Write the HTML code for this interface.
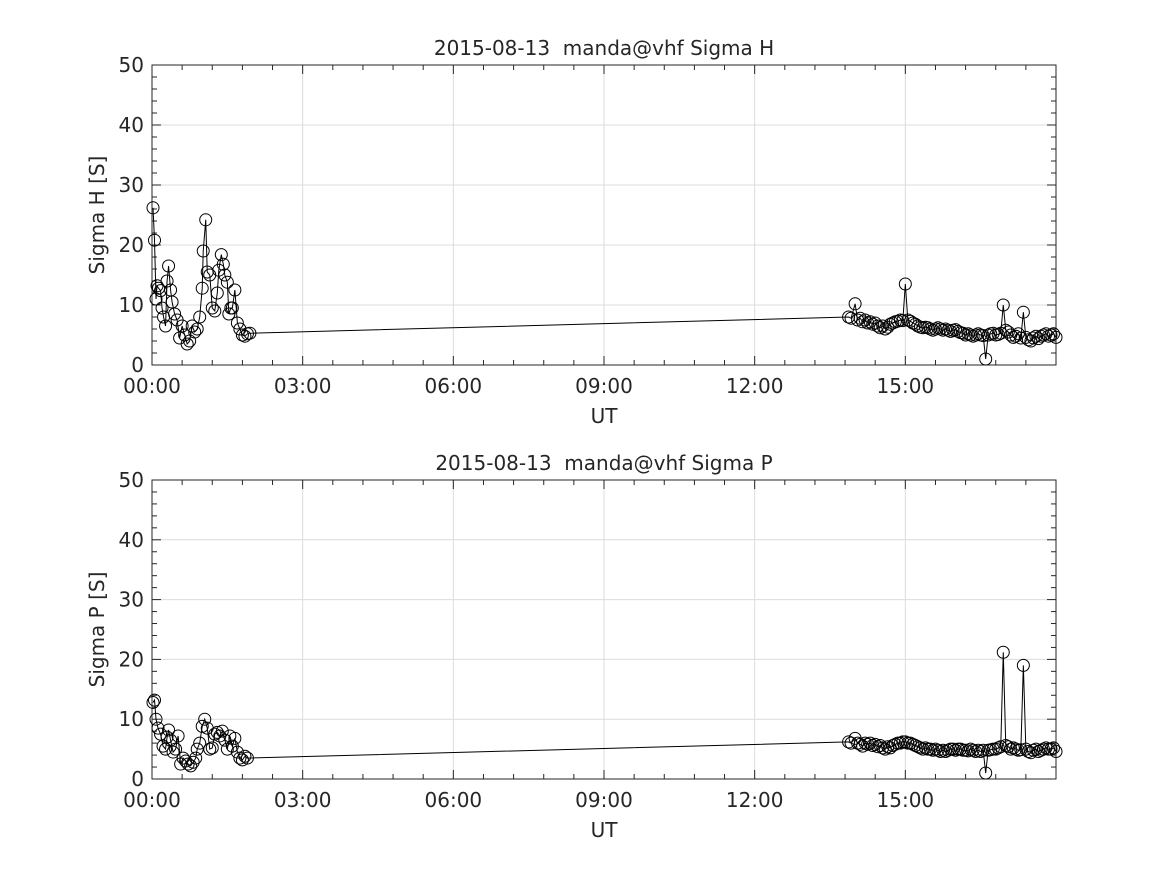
<!DOCTYPE html>
<html><head><meta charset="utf-8"><style>
body{margin:0;background:#fff}
svg text{font-family:"DejaVu Sans","Liberation Sans",sans-serif;fill:#262626;white-space:pre}
</style></head><body>
<svg id="chart" width="1167" height="875"></svg>
<script>
const xTickLabels=["00:00","03:00","06:00","09:00","12:00","15:00"];
const yTicks=[0,10,20,30,40,50];
const hEarly=[[0.02,26.2],[0.05,20.8],[0.08,11],[0.1,13.2],[0.13,12.8],[0.17,12.4],[0.2,9.5],[0.23,8],[0.27,6.5],[0.3,14],[0.33,16.5],[0.37,12.5],[0.4,10.5],[0.45,8.5],[0.5,7.5],[0.55,4.5],[0.6,6.5],[0.65,5],[0.7,3.5],[0.75,4],[0.8,6.5],[0.85,5.5],[0.9,6],[0.95,8],[1.0,12.8],[1.02,19],[1.07,24.2],[1.1,15.5],[1.15,15],[1.2,9.5],[1.25,9],[1.3,12],[1.33,15.8],[1.38,18.4],[1.42,16.8],[1.45,15],[1.5,13.8],[1.53,8.5],[1.57,9.5],[1.6,9.5],[1.65,12.5],[1.7,7],[1.75,6],[1.8,5],[1.85,4.8],[1.9,5.2],[1.95,5.3]];
const hLate=[[13.87,8.0],[13.92,7.8],[14.0,10.2],[14.05,7.5],[14.1,7.8],[14.15,7.2],[14.2,7.5],[14.25,7.0],[14.3,7.2],[14.35,6.8],[14.4,7.0],[14.45,6.5],[14.5,6.2],[14.55,6.5],[14.6,6.0],[14.65,6.3],[14.7,6.8],[14.75,7.0],[14.8,7.2],[14.85,7.3],[14.9,7.5],[14.95,7.4],[15.0,13.5],[15.05,7.5],[15.1,7.3],[15.15,7.0],[15.2,6.8],[15.25,6.5],[15.3,6.3],[15.35,6.2],[15.4,6.3],[15.45,6.2],[15.5,6.0],[15.55,5.8],[15.6,6.0],[15.65,6.2],[15.7,6.0],[15.75,5.8],[15.8,6.0],[15.85,5.8],[15.9,5.6],[15.95,5.8],[16.0,5.9],[16.05,5.6],[16.1,5.4],[16.15,5.3],[16.2,5.0],[16.25,5.2],[16.3,5.0],[16.35,4.8],[16.4,5.0],[16.45,5.2],[16.5,5.0],[16.55,4.9],[16.6,1.0],[16.65,5.0],[16.7,5.2],[16.75,5.3],[16.8,5.0],[16.85,5.1],[16.9,5.3],[16.95,10.0],[17.0,5.8],[17.05,5.5],[17.1,5.0],[17.15,4.6],[17.2,4.8],[17.25,5.2],[17.3,4.5],[17.35,8.8],[17.4,4.6],[17.45,4.2],[17.5,4.0],[17.55,4.5],[17.6,4.8],[17.65,4.4],[17.7,4.8],[17.75,5.0],[17.8,5.2],[17.85,4.8],[17.9,5.0],[17.95,5.2],[18.0,4.6]];
const pEarly=[[0.02,12.8],[0.05,13.2],[0.08,10],[0.12,8.5],[0.17,7.5],[0.22,5.5],[0.27,5],[0.3,7],[0.33,8.2],[0.37,6.5],[0.42,4.5],[0.47,5],[0.52,7.2],[0.57,2.5],[0.62,3.5],[0.67,3],[0.72,2.5],[0.77,2.2],[0.82,2.8],[0.87,3.5],[0.9,5],[0.95,6],[1.0,8.8],[1.05,10],[1.1,8.5],[1.15,5],[1.2,5.2],[1.25,7.5],[1.3,7.8],[1.35,7.2],[1.4,8],[1.45,6.5],[1.5,5],[1.55,7.2],[1.6,5.5],[1.65,6.8],[1.7,4.5],[1.75,3.5],[1.8,3.2],[1.85,3.8],[1.9,3.5]];
const pLate=[[13.87,6.2],[13.92,6.0],[14.0,6.8],[14.05,6.0],[14.1,5.8],[14.15,5.5],[14.2,6.0],[14.25,5.8],[14.3,6.0],[14.35,5.6],[14.4,5.8],[14.45,5.4],[14.5,5.6],[14.55,5.2],[14.6,5.0],[14.65,5.4],[14.7,5.2],[14.75,5.6],[14.8,5.8],[14.85,6.0],[14.9,6.0],[14.95,6.2],[15.0,6.2],[15.05,6.0],[15.1,6.0],[15.15,5.8],[15.2,5.6],[15.25,5.4],[15.3,5.2],[15.35,5.0],[15.4,5.2],[15.45,5.0],[15.5,5.0],[15.55,4.8],[15.6,5.0],[15.65,4.8],[15.7,4.6],[15.75,4.8],[15.8,4.6],[15.85,4.8],[15.9,5.0],[15.95,5.0],[16.0,4.8],[16.05,5.0],[16.1,5.0],[16.15,4.8],[16.2,4.8],[16.25,4.7],[16.3,5.0],[16.35,4.8],[16.4,4.6],[16.45,4.8],[16.5,4.6],[16.55,4.8],[16.6,1.0],[16.65,4.8],[16.7,4.9],[16.75,5.0],[16.8,5.0],[16.85,5.2],[16.9,5.4],[16.95,21.2],[17.0,5.6],[17.05,5.4],[17.1,5.0],[17.15,5.2],[17.2,5.0],[17.25,4.8],[17.3,4.9],[17.35,19.0],[17.4,5.0],[17.45,4.6],[17.5,4.4],[17.55,4.8],[17.6,5.0],[17.65,4.6],[17.7,4.8],[17.75,5.0],[17.8,5.2],[17.85,5.0],[17.9,5.0],[17.95,5.2],[18.0,4.6]];

const NS="http://www.w3.org/2000/svg";
const svg=document.getElementById('chart');
function mk(tag,attrs,parent){const e=document.createElementNS(NS,tag);for(const k in attrs)e.setAttribute(k,attrs[k]);(parent||svg).appendChild(e);return e;}
const L=152,R=1056,XMAX=18;
function drawPanel(top,bottom,title,ylabel,early,late,key){
  const g=mk('g',{});
  
  
  const xs=t=>L+(R-L)*t/XMAX, ys=v=>bottom-(bottom-top)*v/50;
  xTickLabels.forEach((lab,i)=>{const x=xs(i*3);mk('line',{x1:x,x2:x,y1:top,y2:bottom,stroke:'#dcdcdc','stroke-width':1},g);});
  yTicks.forEach(v=>{const y=ys(v);mk('line',{x1:L,x2:R,y1:y,y2:y,stroke:'#dcdcdc','stroke-width':1},g);});
  for(let t=0;t<=XMAX+1e-6;t+=0.6){const x=xs(t);const mj=Math.abs(t/3-Math.round(t/3))<1e-6;const len=mj?9:5;
    mk('line',{x1:x,x2:x,y1:bottom,y2:bottom-len,stroke:'#262626'},g);mk('line',{x1:x,x2:x,y1:top,y2:top+len,stroke:'#262626'},g);}
  for(let v=0;v<=50;v+=2){const y=ys(v);const len=v%10===0?9:5;
    mk('line',{x1:L,x2:L+len,y1:y,y2:y,stroke:'#262626'},g);mk('line',{x1:R,x2:R-len,y1:y,y2:y,stroke:'#262626'},g);}
  mk('rect',{x:L,y:top,width:R-L,height:bottom-top,fill:'none',stroke:'#262626','stroke-width':1},g);
  xTickLabels.forEach((lab,i)=>{const t=mk('text',{x:xs(i*3),y:bottom+28,'text-anchor':'middle','font-size':20},g);t.textContent=lab;
    });
  yTicks.forEach(v=>{const t=mk('text',{x:L-8,y:ys(v)+7,'text-anchor':'end','font-size':20},g);t.textContent=v;
    });
  const tt=mk('text',{x:(L+R)/2,y:top-10,'text-anchor':'middle','font-size':20},g);tt.textContent=title;
  
  const xl=mk('text',{x:(L+R)/2,y:bottom+58,'text-anchor':'middle','font-size':20},g);xl.textContent='UT';
  
  const yl=mk('text',{x:0,y:0,'text-anchor':'middle','font-size':20,transform:`translate(104,${(top+bottom)/2}) rotate(-90)`},g);yl.textContent=ylabel;
  
  const all=early.concat(late);
  const path=mk('polyline',{points:all.map(p=>xs(p[0])+','+ys(p[1])).join(' '),fill:'none',stroke:'#000','stroke-width':1},g);
  
  all.forEach(p=>{const c=mk('circle',{cx:xs(p[0]),cy:ys(p[1]),r:6,fill:'none',stroke:'#000','stroke-width':1},g);
    });
}
drawPanel(65,365,'2015-08-13  manda@vhf Sigma H','Sigma H [S]',hEarly,hLate,'sigma-h');
drawPanel(480,779,'2015-08-13  manda@vhf Sigma P','Sigma P [S]',pEarly,pLate,'sigma-p');
</script>
</body></html>
